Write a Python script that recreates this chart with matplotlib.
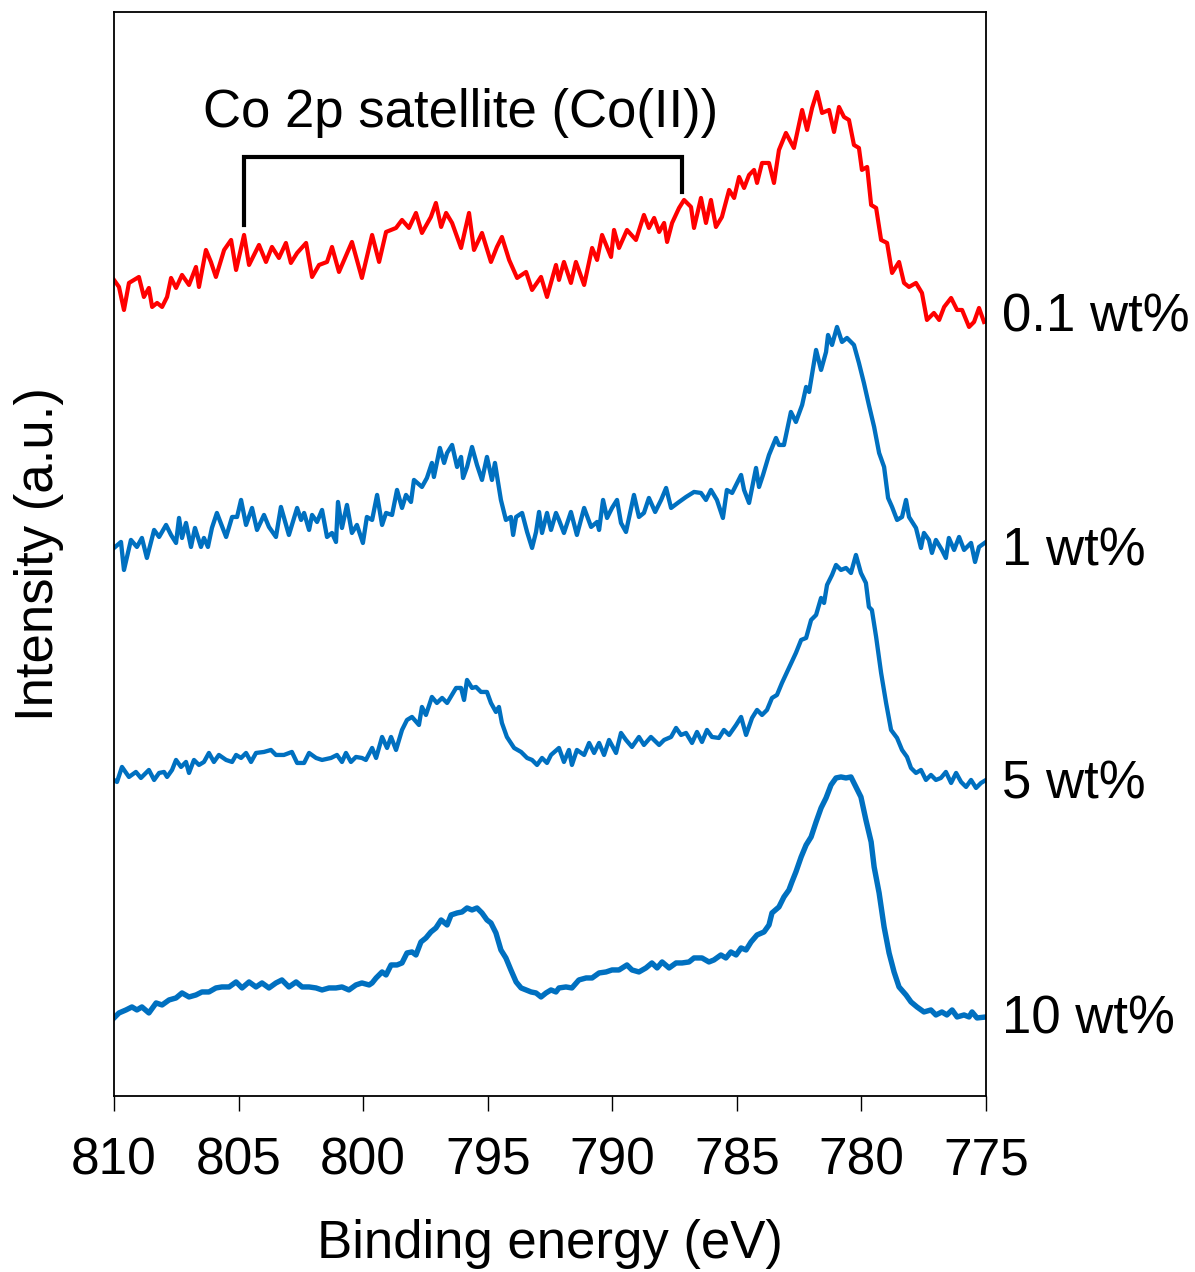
import matplotlib
matplotlib.use("Agg")
import matplotlib.pyplot as plt

plt.rcParams['font.family'] = ['Liberation Sans', 'DejaVu Sans']

# ---------------- data (binding energy in eV, intensity in a.u.) ----------------
e_01 = [810.00, 809.80, 809.60, 809.40, 809.00, 808.80, 808.60, 808.47, 808.27, 808.07,
        807.87, 807.71, 807.51, 807.27, 806.99, 806.71, 806.59, 806.31, 806.11, 805.91,
        805.58, 805.30, 805.10, 804.78, 804.58, 804.18, 803.90, 803.66, 803.38, 803.10,
        802.90, 802.65, 802.29, 802.05, 801.77, 801.45, 801.25, 800.97, 800.45, 800.05,
        799.64, 799.36, 799.08, 798.68, 798.44, 798.16, 797.88, 797.64, 797.28, 797.08,
        796.87, 796.67, 796.43, 796.07, 795.75, 795.55, 795.23, 794.87, 794.63, 794.43,
        794.14, 793.82, 793.46, 793.22, 792.86, 792.62, 792.26, 792.14, 791.94, 791.66,
        791.46, 791.13, 790.81, 790.61, 790.41, 790.05, 789.93, 789.73, 789.41, 789.05,
        788.73, 788.53, 788.32, 788.12, 787.92, 787.80, 787.60, 787.32, 787.12, 786.84,
        786.72, 786.44, 786.24, 786.04, 785.84, 785.60, 785.31, 785.11, 784.91, 784.71,
        784.51, 784.31, 784.19, 783.99, 783.71, 783.51, 783.31, 783.03, 782.71, 782.38,
        782.18, 781.98, 781.78, 781.58, 781.30, 781.10, 780.90, 780.70, 780.50, 780.30,
        780.10, 779.98, 779.77, 779.61, 779.41, 779.21, 778.97, 778.77, 778.49, 778.29,
        778.09, 777.81, 777.57, 777.37, 777.09, 776.88, 776.68, 776.40, 776.16, 775.96,
        775.68, 775.48, 775.28, 775.08]
i_01 = [815, 808, 785, 812, 818, 798, 807, 788, 792, 788,
        798, 817, 807, 820, 810, 828, 808, 845, 833, 818,
        845, 855, 825, 860, 830, 850, 833, 848, 837, 852,
        832, 842, 852, 818, 830, 833, 848, 823, 853, 817,
        860, 833, 863, 867, 875, 867, 882, 862, 878, 892,
        868, 882, 872, 847, 882, 845, 862, 833, 848, 858,
        835, 817, 823, 805, 818, 798, 830, 815, 833, 812,
        833, 810, 847, 835, 860, 838, 865, 847, 865, 855,
        880, 867, 877, 863, 872, 853, 872, 887, 895, 888,
        867, 897, 872, 895, 868, 878, 905, 897, 918, 907,
        920, 925, 912, 932, 932, 912, 945, 962, 947, 985,
        965, 987, 1003, 982, 985, 963, 988, 978, 975, 950,
        947, 925, 928, 890, 887, 855, 852, 822, 833, 812,
        808, 812, 802, 775, 782, 775, 788, 797, 785, 785,
        768, 773, 787, 773]

e_1 = [810.00, 809.72, 809.60, 809.32, 809.08, 808.88, 808.68, 808.39, 808.19, 807.91,
       807.71, 807.51, 807.39, 807.27, 807.11, 806.91, 806.75, 806.51, 806.39, 806.23,
       806.07, 805.87, 805.50, 805.26, 805.06, 804.90, 804.70, 804.46, 804.26, 803.98,
       803.78, 803.50, 803.30, 802.98, 802.65, 802.49, 802.37, 802.17, 802.05, 801.85,
       801.65, 801.45, 801.25, 801.09, 801.01, 800.85, 800.65, 800.45, 800.25, 800.01,
       799.85, 799.64, 799.44, 799.24, 799.08, 798.84, 798.64, 798.44, 798.28, 798.08,
       797.96, 797.64, 797.44, 797.24, 797.16, 796.92, 796.75, 796.63, 796.43, 796.23,
       796.07, 795.99, 795.83, 795.63, 795.43, 795.23, 795.03, 794.83, 794.71, 794.47,
       794.27, 794.07, 793.98, 793.86, 793.62, 793.42, 793.22, 793.06, 792.94, 792.82,
       792.62, 792.46, 792.26, 792.14, 791.94, 791.66, 791.42, 791.13, 790.85, 790.61,
       790.53, 790.37, 790.21, 790.01, 789.81, 789.65, 789.45, 789.13, 788.93, 788.73,
       788.53, 788.28, 788.04, 787.84, 787.64, 787.32, 787.04, 786.72, 786.44, 786.24,
       786.04, 785.80, 785.56, 785.40, 785.19, 785.03, 784.83, 784.71, 784.51, 784.23,
       784.11, 783.95, 783.71, 783.43, 783.31, 783.11, 782.83, 782.63, 782.38, 782.22,
       782.10, 781.82, 781.62, 781.42, 781.34, 781.18, 780.98, 780.78, 780.58, 780.30,
       780.10, 779.90, 779.70, 779.49, 779.29, 779.09, 778.93, 778.77, 778.57, 778.37,
       778.21, 778.09, 777.81, 777.61, 777.49, 777.29, 777.17, 777.01, 776.77, 776.61,
       776.49, 776.28, 776.08, 775.88, 775.60, 775.44, 775.28, 775.00]
i_1 = [547, 553, 525, 555, 548, 557, 537, 565, 558, 570,
       560, 552, 577, 557, 572, 548, 567, 548, 557, 548,
       567, 582, 558, 578, 578, 595, 570, 587, 565, 580,
       568, 558, 588, 560, 587, 575, 582, 565, 580, 573,
       585, 558, 562, 553, 593, 567, 590, 562, 570, 552,
       578, 575, 600, 570, 582, 580, 605, 587, 600, 593,
       615, 608, 617, 632, 618, 647, 632, 642, 650, 628,
       638, 617, 628, 648, 630, 615, 638, 615, 632, 595,
       575, 578, 560, 578, 582, 563, 547, 563, 583, 562,
       582, 565, 582, 575, 562, 583, 560, 587, 568, 573,
       565, 595, 577, 587, 595, 572, 563, 600, 578, 582,
       597, 583, 595, 607, 587, 593, 598, 603, 602, 595,
       605, 595, 577, 605, 602, 610, 620, 605, 592, 627,
       608, 620, 640, 657, 650, 650, 683, 673, 690, 708,
       703, 745, 725, 743, 760, 750, 768, 753, 757, 750,
       732, 712, 690, 668, 642, 628, 597, 588, 575, 578,
       595, 578, 567, 547, 562, 555, 542, 555, 545, 537,
       557, 545, 558, 545, 552, 533, 548, 553]

e_5 = [810.00, 809.88, 809.68, 809.40, 809.12, 808.92, 808.72, 808.60, 808.39, 808.19,
       807.99, 807.87, 807.67, 807.51, 807.31, 807.11, 806.99, 806.79, 806.59, 806.39,
       806.19, 805.99, 805.79, 805.50, 805.26, 805.10, 804.90, 804.70, 804.50, 804.30,
       803.98, 803.70, 803.50, 803.18, 802.86, 802.65, 802.37, 802.17, 801.89, 801.65,
       801.29, 801.05, 800.85, 800.69, 800.49, 800.29, 800.05, 799.89, 799.64, 799.48,
       799.24, 799.04, 798.88, 798.68, 798.44, 798.24, 798.04, 797.76, 797.64, 797.48,
       797.24, 797.04, 796.83, 796.63, 796.27, 796.07, 795.95, 795.83, 795.63, 795.47,
       795.27, 795.03, 794.87, 794.67, 794.55, 794.43, 794.23, 793.94, 793.66, 793.42,
       793.22, 793.02, 792.82, 792.62, 792.46, 792.14, 791.94, 791.74, 791.62, 791.42,
       791.13, 790.93, 790.73, 790.53, 790.33, 790.13, 789.85, 789.65, 789.45, 789.21,
       788.93, 788.73, 788.45, 788.12, 787.92, 787.64, 787.44, 787.24, 787.04, 786.80,
       786.60, 786.40, 786.20, 786.00, 785.72, 785.52, 785.31, 785.03, 784.83, 784.63,
       784.39, 784.19, 783.99, 783.79, 783.59, 783.39, 783.19, 782.91, 782.63, 782.42,
       782.22, 782.02, 781.82, 781.62, 781.50, 781.38, 781.18, 781.02, 780.82, 780.62,
       780.42, 780.22, 780.02, 779.82, 779.70, 779.58, 779.41, 779.21, 779.01, 778.81,
       778.57, 778.37, 778.17, 778.01, 777.81, 777.61, 777.41, 777.21, 777.01, 776.81,
       776.61, 776.40, 776.20, 776.00, 775.80, 775.60, 775.40, 775.20, 775.00]
i_5 = [315, 313, 328, 318, 323, 317, 322, 325, 315, 322,
       323, 318, 325, 335, 328, 333, 322, 335, 330, 333,
       342, 333, 340, 335, 333, 340, 337, 342, 333, 342,
       343, 345, 340, 340, 343, 332, 332, 342, 337, 335,
       337, 340, 333, 342, 333, 338, 337, 335, 347, 337,
       358, 347, 358, 345, 365, 375, 378, 370, 388, 380,
       398, 392, 397, 392, 407, 407, 395, 415, 407, 408,
       403, 403, 392, 383, 388, 372, 358, 347, 343, 337,
       335, 330, 337, 332, 340, 347, 333, 345, 330, 345,
       340, 352, 342, 352, 340, 355, 342, 362, 355, 348,
       358, 350, 358, 350, 355, 358, 367, 360, 362, 352,
       363, 353, 365, 358, 357, 365, 360, 370, 378, 360,
       377, 385, 380, 385, 397, 400, 412, 427, 442, 455,
       457, 475, 480, 497, 492, 510, 520, 530, 525, 527,
       522, 540, 522, 512, 488, 485, 458, 422, 392, 365,
       357, 345, 338, 327, 322, 325, 315, 320, 315, 317,
       323, 312, 322, 313, 308, 315, 307, 312, 315]

e_10 = [810.00, 809.80, 809.52, 809.28, 809.08, 808.88, 808.60, 808.31, 808.07, 807.79,
        807.51, 807.27, 806.99, 806.71, 806.47, 806.19, 805.91, 805.67, 805.38, 805.10,
        804.86, 804.58, 804.30, 804.06, 803.78, 803.50, 803.26, 802.98, 802.69, 802.45,
        802.17, 801.89, 801.65, 801.37, 801.09, 800.85, 800.57, 800.29, 800.05, 799.76,
        799.64, 799.48, 799.24, 799.08, 798.88, 798.64, 798.44, 798.24, 798.04, 797.88,
        797.68, 797.48, 797.28, 797.08, 796.87, 796.63, 796.47, 796.23, 796.03, 795.83,
        795.63, 795.43, 795.23, 795.03, 794.87, 794.67, 794.47, 794.27, 794.07, 793.86,
        793.66, 793.46, 793.26, 793.06, 792.86, 792.66, 792.46, 792.26, 792.14, 791.86,
        791.62, 791.34, 791.05, 790.81, 790.53, 790.25, 790.01, 789.73, 789.41, 789.21,
        788.93, 788.65, 788.41, 788.20, 788.00, 787.72, 787.44, 787.20, 786.92, 786.72,
        786.40, 786.12, 785.92, 785.64, 785.44, 785.24, 785.03, 784.83, 784.63, 784.43,
        784.19, 783.91, 783.71, 783.59, 783.31, 783.11, 782.91, 782.79, 782.63, 782.42,
        782.22, 782.02, 781.82, 781.62, 781.42, 781.22, 781.02, 780.82, 780.62, 780.42,
        780.22, 780.02, 779.82, 779.61, 779.49, 779.29, 779.09, 778.89, 778.69, 778.49,
        778.21, 778.01, 777.77, 777.49, 777.21, 777.01, 776.77, 776.57, 776.36, 776.16,
        775.88, 775.68, 775.56, 775.36, 775.00]
i_10 = [77, 82, 85, 88, 85, 88, 82, 92, 90, 95,
        97, 102, 98, 100, 103, 103, 107, 108, 108, 113,
        107, 113, 108, 112, 107, 112, 115, 108, 113, 108,
        108, 107, 105, 107, 107, 108, 105, 110, 112, 110,
        112, 117, 123, 120, 130, 130, 132, 142, 143, 140,
        153, 157, 163, 167, 175, 170, 180, 182, 183, 187,
        185, 187, 182, 175, 172, 162, 145, 137, 125, 113,
        107, 105, 103, 102, 98, 102, 105, 103, 107, 108,
        107, 115, 117, 117, 122, 123, 125, 125, 130, 125,
        123, 127, 132, 127, 133, 127, 132, 132, 133, 137,
        137, 133, 135, 140, 137, 143, 140, 147, 145, 153,
        160, 163, 170, 182, 188, 198, 205, 213, 223, 238,
        250, 258, 273, 287, 297, 310, 317, 318, 317, 318,
        308, 298, 275, 253, 228, 202, 168, 142, 123, 108,
        100, 93, 88, 83, 85, 80, 83, 80, 85, 78,
        80, 78, 83, 77, 78]

series_labels = ["0.1 wt%", "1 wt%", "5 wt%", "10 wt%"]
label_levels = [777, 543, 310, 75]
x_ticks = [810, 805, 800, 795, 790, 785, 780, 775]

# satellite bracket annotation
bracket_e = [804.8, 804.8, 787.2, 787.2]
bracket_i = [870, 938, 938, 903]
bracket_text = "Co 2p satellite (Co(II))"

# ---------------- figure ----------------
fig = plt.figure(figsize=(11.95, 12.72), dpi=100)
ax = fig.add_axes([0.0954, 0.1384, 0.7297, 0.8522])

red = '#FF0000'
blue = '#0070C0'
ax.plot(e_01, i_01, color=red, lw=3.0, solid_joinstyle='round')
ax.plot(e_1, i_1, color=blue, lw=3.1, solid_joinstyle='round')
ax.plot(e_5, i_5, color=blue, lw=3.1, solid_joinstyle='round')
ax.plot(e_10, i_10, color=blue, lw=3.9, solid_joinstyle='round')

ax.plot(bracket_e, bracket_i, color='black', lw=3.0, solid_joinstyle='miter')
ax.text(796.1, 982, bracket_text, fontsize=38, ha='center', va='center')

for lab, lev in zip(series_labels, label_levels):
    ax.text(774.36, lev, lab, fontsize=38, ha='left', va='center', clip_on=False)

ax.set_xlim(810, 775)
ax.set_ylim(-1, 1083)
ax.set_xticks(x_ticks)
ax.set_xticklabels([str(t) for t in x_ticks])
ax.set_yticks([])
ax.tick_params(axis='x', direction='out', length=11, width=1.0, labelsize=37, pad=18)
for s in ax.spines.values():
    s.set_linewidth(1.3)

ax.set_xlabel("Binding energy (eV)", fontsize=38, labelpad=24)
ax.set_ylabel("Intensity (a.u.)", fontsize=38, labelpad=36)

fig.savefig("out.png", dpi=100)
